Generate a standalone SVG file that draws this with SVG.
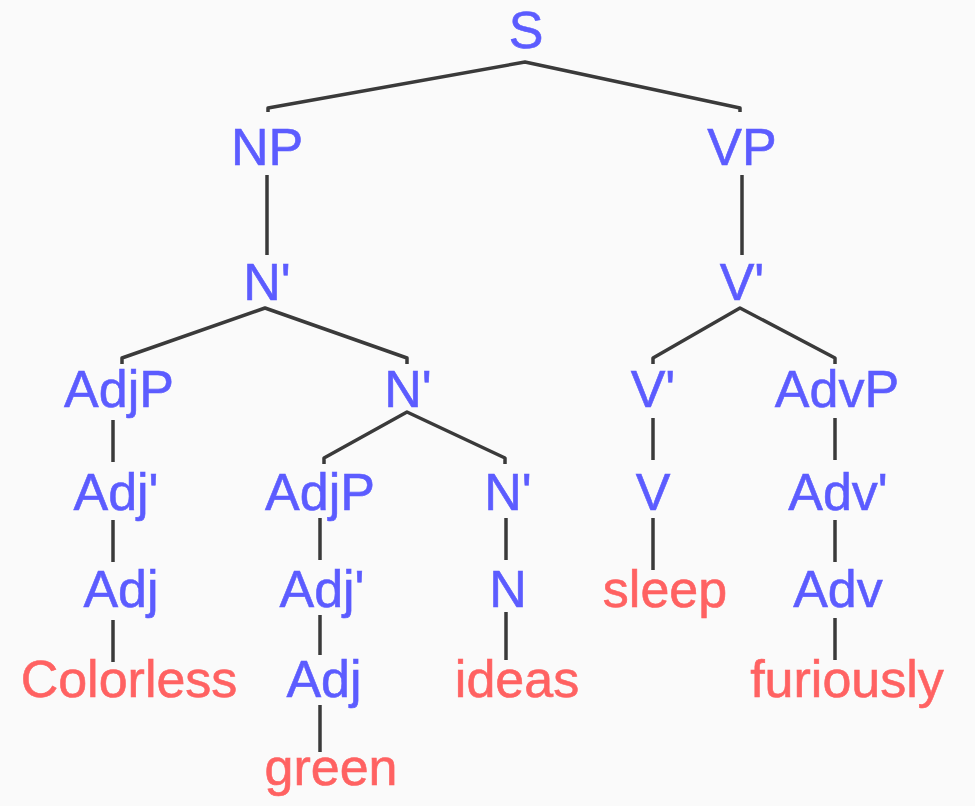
<svg xmlns="http://www.w3.org/2000/svg" width="975" height="806" viewBox="0 0 975 806">
<style>
.n{font-family:"Liberation Sans",Arial,sans-serif;font-size:52px;fill:#5c5cff;text-anchor:middle;stroke:#5c5cff;stroke-width:0.6}
.w{font-family:"Liberation Sans",Arial,sans-serif;font-size:52px;fill:#ff6262;text-anchor:middle;stroke:#ff6262;stroke-width:0.6}
.e{stroke:#3a3a3a;stroke-width:3.5;fill:none;stroke-linejoin:round}
</style>
<rect width="975" height="806" fill="#fafafa"/>
<g id="connectors" class="e">
<polyline points="268,112 268,108 525,62 740,108 740,112"/>
<line x1="267" y1="175" x2="267" y2="255"/>
<line x1="742" y1="175" x2="742" y2="255"/>
<polyline points="122,364 122,358 265,308 407,358 407,364"/>
<polyline points="324,464 324,458 407,412 505,458 505,464"/>
<polyline points="653,364 653,358 740,308 835,358 835,364"/>
<line x1="113" y1="420" x2="113" y2="462"/>
<line x1="113" y1="520" x2="113" y2="562"/>
<line x1="113" y1="620" x2="113" y2="662"/>
<line x1="320" y1="518" x2="320" y2="560"/>
<line x1="320" y1="615" x2="320" y2="655"/>
<line x1="320" y1="705" x2="320" y2="752"/>
<line x1="506" y1="518" x2="506" y2="560"/>
<line x1="506" y1="612" x2="506" y2="660"/>
<line x1="653" y1="418" x2="653" y2="460"/>
<line x1="653" y1="518" x2="653" y2="570"/>
<line x1="835" y1="418" x2="835" y2="460"/>
<line x1="835" y1="520" x2="835" y2="562"/>
<line x1="835" y1="618" x2="835" y2="660"/>
</g>
<g id="S"><text class="n" x="526" y="48">S</text></g>
<g id="NP"><text class="n" x="267" y="165">NP</text></g>
<g id="VP"><text class="n" x="742" y="165">VP</text></g>
<g id="Nbar1"><text class="n" x="267" y="300">N'</text></g>
<g id="Vbar1"><text class="n" x="742" y="300">V'</text></g>
<g id="AdjP1"><text class="n" x="119" y="407">AdjP</text></g>
<g id="Nbar2"><text class="n" x="408" y="407">N'</text></g>
<g id="Vbar2"><text class="n" x="653" y="407">V'</text></g>
<g id="AdvP"><text class="n" x="837" y="407">AdvP</text></g>
<g id="Adjbar1"><text class="n" x="116" y="510">Adj'</text></g>
<g id="AdjP2"><text class="n" x="320" y="510">AdjP</text></g>
<g id="Nbar3"><text class="n" x="508" y="510">N'</text></g>
<g id="V"><text class="n" x="653" y="510">V</text></g>
<g id="Advbar"><text class="n" x="838" y="510">Adv'</text></g>
<g id="Adj1"><text class="n" x="121" y="607">Adj</text></g>
<g id="Adjbar2"><text class="n" x="322" y="607">Adj'</text></g>
<g id="N"><text class="n" x="508" y="607">N</text></g>
<g id="sleep"><text class="w" x="665" y="607">sleep</text></g>
<g id="Adv"><text class="n" x="838" y="607">Adv</text></g>
<g id="Colorless"><text class="w" x="129" y="697">Colorless</text></g>
<g id="Adj2"><text class="n" x="324" y="697">Adj</text></g>
<g id="ideas"><text class="w" x="517" y="697">ideas</text></g>
<g id="furiously"><text class="w" x="847" y="697">furiously</text></g>
<g id="green"><text class="w" x="331" y="785">green</text></g>
</svg>
